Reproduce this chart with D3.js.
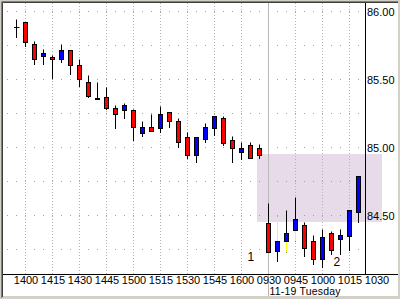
<!DOCTYPE html>
<html lang="en">
<head>
    <meta charset="UTF-8">
    <title>Intraday Candles</title>
    <script src="https://d3js.org/d3.v7.min.js"></script>
    <style>
        body {
            margin: 0;
            background-color: #d4d0c8;
        }
        svg text {
            font-family: "Liberation Sans", Arial, sans-serif;
            fill: #000;
        }
    </style>
</head>
<body>
    <svg id="chart" width="400" height="299"></svg>

    <script>
        // 5-minute bars, index 0 = 1355 of the previous day, index 28 = 0930 on 11-19
        const opens  = [85.88, 85.92, 85.76, 85.67, 85.66, 85.65, 85.71, 85.60, 85.48, 85.357,
                        85.37, 85.29, 85.27, 85.27, 85.10, 85.15, 85.14, 85.26, 85.19, 85.07,
                        84.94, 85.06, 85.14, 85.21, 85.05, 84.96, 85.015, 84.99,
                        84.44, 84.235, 84.31, 84.39, 84.43, 84.31, 84.18, 84.37, 84.32, 84.345, 84.52];
        const highs  = [85.94, 85.92, 85.78, 85.72, 85.68, 85.76, 85.71, 85.65, 85.53, 85.48,
                        85.44, 85.31, 85.32, 85.28, 85.19, 85.24, 85.30, 85.26, 85.21, 85.11,
                        85.07, 85.18, 85.23, 85.23, 85.08, 85.04, 85.04, 85.02,
                        84.59, 84.49, 84.54, 84.635, 84.45, 84.35, 84.40, 84.38, 84.40, 84.54, 84.79];
        const lows   = [85.81, 85.74, 85.61, 85.61, 85.51, 85.625, 85.54, 85.45, 85.365, 85.35,
                        85.28, 85.14, 85.21, 85.05, 85.08, 85.12, 85.11, 85.15, 85.00, 84.92,
                        84.89, 85.04, 85.09, 85.015, 84.89, 84.91, 84.92, 84.92,
                        84.23, 84.16, 84.225, 84.31, 84.20, 84.14, 84.12, 84.21, 84.21, 84.24, 84.45];
        const closes = [85.88, 85.77, 85.65, 85.69, 85.65, 85.71, 85.60, 85.50, 85.375, 85.35,
                        85.29, 85.24, 85.31, 85.15, 85.15, 85.12, 85.24, 85.19, 85.04, 84.94,
                        85.07, 85.15, 85.23, 85.03, 84.99, 84.99, 84.92, 84.94,
                        84.23, 84.31, 84.37, 84.47, 84.26, 84.18, 84.34, 84.24, 84.35, 84.54, 84.79];

        // wick parts that the source highlights
        const markedWicks = [{i: 29, side: "upper"}, {i: 30, side: "lower"}, {i: 31, side: "lower"}];

        const timeTicks  = [1, 4, 7, 10, 13, 16, 19, 22, 25, 28, 31, 34, 37, 40];
        const timeLabels = ["1400", "1415", "1430", "1445", "1500", "1515", "1530", "1545", "1600",
                            "0930", "0945", "1000", "1015", "1030"];
        const dayStart = 28;
        const dayLabel = "11-19 Tuesday";

        const gridPrices  = [84.25, 84.50, 84.75, 85.00, 85.25, 85.50, 85.75, 86.00];
        const labelPrices = [84.50, 85.00, 85.50, 86.00];

        // shaded zone: bar index range and price range
        const zoneBars   = [26.72, 40.6];
        const zonePrices = [84.45, 84.95];

        // numbered markers: [bar index, price, text]
        const markers = [[26.04, 84.165, "1"], [35.6, 84.13, "2"]];

        const svg = d3.select("#chart");

        const x = d3.scaleLinear().domain([0, 38]).range([16.5, 358.5]);
        const y = d3.scaleLinear().domain([84.25, 86.0]).range([249.5, 11.5]);
        const py = p => Math.floor(y(p)) + 0.5;

        const plotLeft = 3, plotTop = 3, axisX = 365.5, axisY = 274.5;

        // window frame
        svg.append("rect").attr("x", 0).attr("y", 0).attr("width", 400).attr("height", 299).attr("fill", "#d4d0c8");
        svg.append("rect").attr("x", 3).attr("y", 3).attr("width", 395).attr("height", 293).attr("fill", "#fff");
        svg.append("path").attr("d", "M1.5,298V1.5H398").attr("stroke", "#808080").attr("fill", "none");
        svg.append("path").attr("d", "M2.5,297V2.5H398").attr("stroke", "#404040").attr("fill", "none");

        // shaded zone
        svg.append("rect")
            .attr("x", Math.round(x(zoneBars[0])))
            .attr("y", Math.round(y(zonePrices[1])))
            .attr("width", Math.round(x(zoneBars[1])) - Math.round(x(zoneBars[0])))
            .attr("height", Math.round(y(zonePrices[0])) - Math.round(y(zonePrices[1])))
            .attr("fill", "#e7dbea");

        // horizontal dotted grid (one dot per bar)
        svg.append("g").selectAll("line")
            .data(gridPrices)
            .enter().append("line")
            .attr("x1", plotLeft).attr("x2", axisX - 0.5)
            .attr("y1", d => py(d)).attr("y2", d => py(d))
            .attr("stroke", "#a0a0a0")
            .attr("stroke-dasharray", "1,8")
            .attr("stroke-dashoffset", 9 - ((x(0) - 0.5 - plotLeft) % 9));

        // vertical dotted grid
        svg.append("g").selectAll("line")
            .data(timeTicks.filter(d => d !== dayStart && x(d) < axisX))
            .enter().append("line")
            .attr("x1", d => x(d)).attr("x2", d => x(d))
            .attr("y1", plotTop).attr("y2", axisY - 0.5)
            .attr("stroke", "#b4b4b4")
            .attr("stroke-dasharray", "1,2");

        // day separator
        svg.append("line")
            .attr("x1", x(dayStart)).attr("x2", x(dayStart))
            .attr("y1", plotTop).attr("y2", 296)
            .attr("stroke", "#b8b8b8");

        // candles
        const bars = d3.range(opens.length).map(i => ({i, o: opens[i], h: highs[i], l: lows[i], c: closes[i]}));
        const gBars = svg.append("g");

        gBars.selectAll(".wick")
            .data(bars)
            .enter().append("line")
            .attr("class", "wick")
            .attr("x1", d => x(d.i)).attr("x2", d => x(d.i))
            .attr("y1", d => py(d.h)).attr("y2", d => py(d.l) + 0.5)
            .attr("stroke", "#000");

        gBars.selectAll(".mark")
            .data(markedWicks)
            .enter().append("line")
            .attr("class", "mark")
            .attr("x1", d => x(d.i)).attr("x2", d => x(d.i))
            .attr("y1", d => d.side === "upper" ? py(highs[d.i]) : py(Math.min(opens[d.i], closes[d.i])))
            .attr("y2", d => d.side === "upper" ? py(Math.max(opens[d.i], closes[d.i])) : py(lows[d.i]))
            .attr("stroke", "#ffff00");

        gBars.selectAll(".body")
            .data(bars.filter(d => d.o !== d.c))
            .enter().append("rect")
            .attr("class", "body")
            .attr("x", d => x(d.i) - 2)
            .attr("width", 4)
            .attr("y", d => py(Math.max(d.o, d.c)))
            .attr("height", d => Math.max(1, py(Math.min(d.o, d.c)) - py(Math.max(d.o, d.c))))
            .attr("fill", d => d.c > d.o ? "#0000ff" : "#ff0000")
            .attr("stroke", "#000");

        gBars.selectAll(".doji")
            .data(bars.filter(d => d.o === d.c))
            .enter().append("line")
            .attr("class", "doji")
            .attr("x1", d => x(d.i) - 2.5).attr("x2", d => x(d.i) + 3)
            .attr("y1", d => py(d.o)).attr("y2", d => py(d.o))
            .attr("stroke", "#000");

        // axis lines
        svg.append("line")
            .attr("x1", axisX).attr("x2", axisX)
            .attr("y1", plotTop).attr("y2", axisY)
            .attr("stroke", "#000");
        svg.append("line")
            .attr("x1", plotLeft).attr("x2", 398)
            .attr("y1", axisY).attr("y2", axisY)
            .attr("stroke", "#000");

        // time axis
        const xAxis = svg.append("g")
            .attr("transform", `translate(0,${axisY})`)
            .call(d3.axisBottom(x).tickValues(timeTicks).tickFormat((d, i) => timeLabels[i]).tickSize(0).tickPadding(1.5));
        xAxis.select(".domain").remove();
        xAxis.selectAll("text").attr("font-size", 11).attr("font-family", null);

        svg.append("text")
            .attr("x", x(dayStart) + 1)
            .attr("y", 295)
            .attr("font-size", 10.5)
            .attr("textLength", 71)
            .text(dayLabel);

        // price axis
        const yAxis = svg.append("g")
            .attr("transform", `translate(${axisX},0)`)
            .call(d3.axisRight(y).tickValues(labelPrices).tickFormat(d3.format(".2f")).tickSize(0).tickPadding(1.5));
        yAxis.select(".domain").remove();
        yAxis.selectAll("text").attr("font-size", 11).attr("font-family", null);

        // numbered markers
        svg.append("g").selectAll("text")
            .data(markers)
            .enter().append("text")
            .attr("x", d => x(d[0]))
            .attr("y", d => y(d[1]))
            .attr("text-anchor", "middle")
            .attr("font-size", 12)
            .text(d => d[2]);
    </script>
</body>
</html>
